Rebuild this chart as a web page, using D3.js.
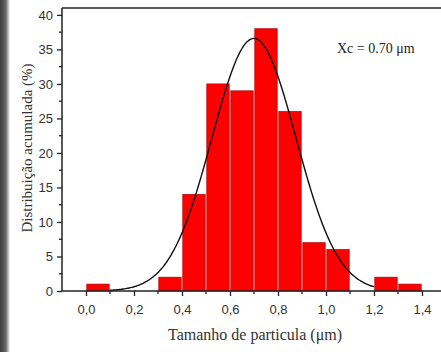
<!DOCTYPE html>
<html>
<head>
<meta charset="utf-8">
<script src="https://cdn.jsdelivr.net/npm/d3@7"></script>
<style>
  html, body { margin: 0; padding: 0; background: #fff; }
  svg { display: block; }
</style>
</head>
<body>
<svg id="chart" width="441" height="352"></svg>
<script>
// Particle size histogram (bin start, bin end, frequency %)
const binStarts = [0.0, 0.3, 0.4, 0.5, 0.6, 0.7, 0.8, 0.9, 1.0, 1.2, 1.3];
const binWidth = 0.1;
const frequencies = [1, 2, 14, 30, 29, 38, 26, 7, 6, 2, 1];

// Gaussian fit parameters
const fitCenter = 0.70;
const fitPeak = 36.6;
const fitSigma = 0.175;
const fitRange = [0.1, 1.2];

const xTickValues = [0.0, 0.2, 0.4, 0.6, 0.8, 1.0, 1.2, 1.4];
const yTickValues = [0, 5, 10, 15, 20, 25, 30, 35, 40];

const svg = d3.select("#chart");

// dark edge strip along the left side
const defs = svg.append("defs");
const grad = defs.append("linearGradient").attr("id", "edge").attr("x1", "0").attr("x2", "1");
grad.append("stop").attr("offset", "0").attr("stop-color", "#3a3a3a");
grad.append("stop").attr("offset", "0.6").attr("stop-color", "#6a6a6a");
grad.append("stop").attr("offset", "1").attr("stop-color", "#fff");
svg.append("rect").attr("x", 0).attr("y", 0).attr("width", 10).attr("height", 352).attr("fill", "url(#edge)");

const x = d3.scaleLinear().domain([-0.1, 1.5]).range([62, 446]);
const y = d3.scaleLinear().domain([0, 41]).range([291, 8]);

// bars
svg.append("g").selectAll("rect")
  .data(binStarts.map((s, i) => ({ s, v: frequencies[i] })))
  .join("rect")
  .attr("x", d => x(d.s) + 0.8)
  .attr("width", d => x(d.s + binWidth) - x(d.s) - 1.6)
  .attr("y", d => y(d.v))
  .attr("height", d => y(0) - y(d.v))
  .attr("fill", "#ff0000")
  .attr("stroke", "#a80000")
  .attr("stroke-width", 0.7);

// fitted curve
const curveX = d3.range(fitRange[0], fitRange[1] + 1e-9, 0.005);
const gauss = v => fitPeak * Math.exp(-((v - fitCenter) ** 2) / (2 * fitSigma * fitSigma));
svg.append("path")
  .datum(curveX)
  .attr("fill", "none")
  .attr("stroke", "#111")
  .attr("stroke-width", 1.4)
  .attr("d", d3.line().x(d => x(d)).y(d => y(gauss(d))).curve(d3.curveBasis));

// frame top
svg.append("line").attr("x1", 62).attr("x2", 441).attr("y1", 8).attr("y2", 8)
  .attr("stroke", "#222").attr("stroke-width", 1.5);

const tickFont = "'Liberation Sans', Arial, sans-serif";

// x axis
const xAxis = svg.append("g").attr("transform", "translate(0,291)");
xAxis.call(d3.axisBottom(x).tickValues(xTickValues).tickSize(5).tickPadding(9)
  .tickFormat(d => d3.format(".1f")(d).replace(".", ",")));
xAxis.append("g").selectAll("line")
  .data(d3.range(0.1, 1.4, 0.2))
  .join("line")
  .attr("x1", d => x(d)).attr("x2", d => x(d))
  .attr("y1", 0).attr("y2", 3)
  .attr("stroke", "#222").attr("stroke-width", 1.3);

// y axis
const yAxis = svg.append("g").attr("transform", "translate(62,0)");
yAxis.call(d3.axisLeft(y).tickValues(yTickValues).tickSize(5).tickPadding(4));
yAxis.append("g").selectAll("line")
  .data(d3.range(2.5, 40, 5))
  .join("line")
  .attr("x1", 0).attr("x2", -3)
  .attr("y1", d => y(d)).attr("y2", d => y(d))
  .attr("stroke", "#222").attr("stroke-width", 1.3);

[xAxis, yAxis].forEach(g => {
  g.select(".domain").attr("stroke", "#222").attr("stroke-width", 1.5);
  g.selectAll(".tick line").attr("stroke", "#222").attr("stroke-width", 1.3);
  g.selectAll(".tick text").attr("fill", "#333").style("font-family", tickFont).style("font-size", "13px");
});
xAxis.select(".domain").attr("d", "M62,0H441");
yAxis.select(".domain").attr("d", "M0,8V291");

const serif = "'Liberation Serif', 'Times New Roman', serif";

// axis titles
svg.append("text")
  .attr("x", 255).attr("y", 340)
  .attr("text-anchor", "middle")
  .style("font-family", serif).style("font-size", "16px").attr("fill", "#333")
  .text("Tamanho de particula (μm)");

svg.append("text")
  .attr("transform", "translate(32,148) rotate(-90)")
  .attr("text-anchor", "middle")
  .style("font-family", serif).style("font-size", "15px").attr("fill", "#333")
  .text("Distribuição acumulada (%)");

// annotation
svg.append("text")
  .attr("x", 337).attr("y", 53)
  .style("font-family", serif).style("font-size", "14px").attr("fill", "#222")
  .text("Xc = 0.70 μm");
</script>
</body>
</html>
